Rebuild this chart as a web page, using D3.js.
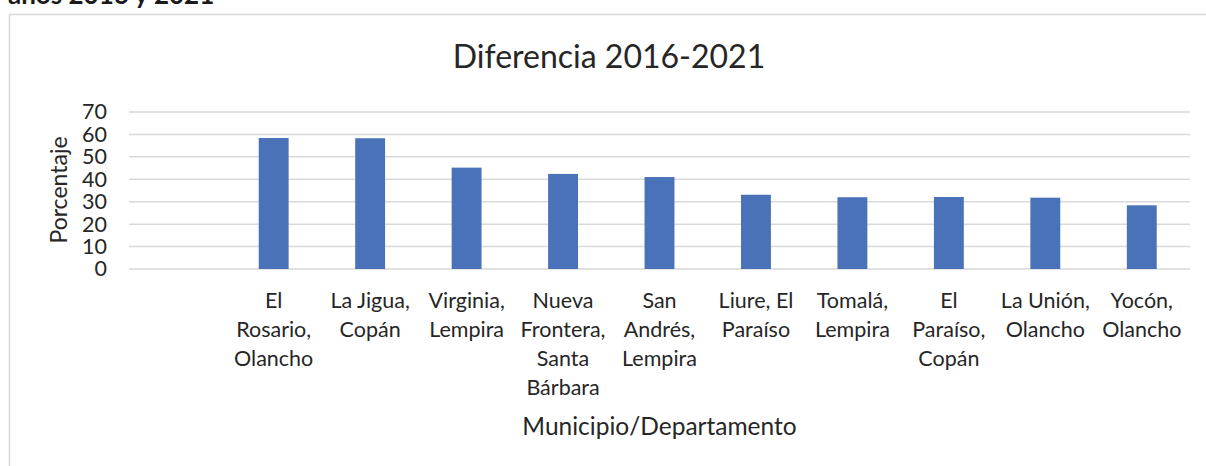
<!DOCTYPE html>
<html>
<head>
<meta charset="utf-8">
<script src="https://cdn.jsdelivr.net/npm/d3@7"></script>
<style>
  body { margin: 0; background: #fff; }
  svg { display: block; font-family: Lato, "Open Sans", sans-serif; }
</style>
</head>
<body>
<script>
//chart data
var categories = ["", "El Rosario, Olancho", "La Jigua, Copán", "Virginia, Lempira",
    "Nueva Frontera, Santa Bárbara", "San Andrés, Lempira", "Liure, El Paraíso",
    "Tomalá, Lempira", "El Paraíso, Copán", "La Unión, Olancho", "Yocón, Olancho"];
//how the category labels wrap in the original
var labelLines = [[], ["El", "Rosario,", "Olancho"], ["La Jigua,", "Copán"], ["Virginia,", "Lempira"],
    ["Nueva", "Frontera,", "Santa", "Bárbara"], ["San", "Andrés,", "Lempira"], ["Liure, El", "Paraíso"],
    ["Tomalá,", "Lempira"], ["El", "Paraíso,", "Copán"], ["La Unión,", "Olancho"], ["Yocón,", "Olancho"]];
var values = [null, 58.4, 58.3, 45.2, 42.4, 41.0, 33.1, 32.0, 32.1, 31.8, 28.4];
var yTicks = [0, 10, 20, 30, 40, 50, 60, 70];

var chartTitle = "Diferencia 2016-2021",
    xTitle = "Municipio/Departamento",
    yTitle = "Porcentaje",
    pageText = "años 2016 y 2021";

window.onload = drawChart();

function drawChart() {
    var width = 1206,
        height = 466;

    var svg = d3.select("body")
        .append("svg")
        .attr("width", width)
        .attr("height", height);

    //cut-off caption above the chart
    svg.append("text")
        .attr("x", 8)
        .attr("y", 4)
        .attr("font-weight", "bold")
        .attr("font-size", 26)
        .attr("fill", "#1a1a1a")
        .text(pageText);

    //chart frame
    svg.append("rect")
        .attr("x", 9.5)
        .attr("y", 14.5)
        .attr("width", 1220)
        .attr("height", 480)
        .attr("fill", "none")
        .attr("stroke", "#d9d9d9")
        .attr("stroke-width", 1.5);

    var x = d3.scaleBand()
        .domain(categories)
        .range([129, 1190])
        .paddingInner(0.69)
        .paddingOuter(0.345);

    var y = d3.scaleLinear()
        .domain([0, 70])
        .range([269, 112]);

    //gridlines
    svg.append("g")
        .selectAll("line")
        .data(yTicks)
        .enter()
        .append("line")
        .attr("x1", 129)
        .attr("x2", 1190)
        .attr("y1", function(d) { return y(d); })
        .attr("y2", function(d) { return y(d); })
        .attr("stroke", "#d9d9d9")
        .attr("stroke-width", 1.5);

    //y axis labels
    var yAxis = svg.append("g")
        .attr("transform", "translate(107,0)")
        .call(d3.axisLeft(y).tickValues(yTicks).tickSize(0).tickPadding(0));
    yAxis.select(".domain").remove();
    yAxis.selectAll("text")
        .attr("font-family", "Lato, sans-serif")
        .attr("font-size", 21.5)
        .attr("fill", "#262626");

    //bars
    svg.append("g")
        .selectAll("rect")
        .data(values)
        .enter()
        .filter(function(d) { return d != null; })
        .append("rect")
        .attr("x", function(d) { return x(categories[values.indexOf(d)]); })
        .attr("y", function(d) { return y(d); })
        .attr("width", x.bandwidth())
        .attr("height", function(d) { return y(0) - y(d); })
        .attr("fill", "#4a72b8");

    //category labels
    var labels = svg.append("g")
        .selectAll("text")
        .data(categories)
        .enter()
        .append("text")
        .attr("text-anchor", "middle")
        .attr("font-size", 21.5)
        .attr("fill", "#262626")
        .attr("transform", function(d) {
            return "translate(" + (x(d) + x.bandwidth() / 2) + ",308)";
        });
    labels.each(function(d, i) {
        d3.select(this).selectAll("tspan")
            .data(labelLines[i])
            .enter()
            .append("tspan")
            .attr("x", 0)
            .attr("y", function(l, j) { return j * 29; })
            .text(function(l) { return l; });
    });

    //titles
    svg.append("text")
        .attr("x", 609)
        .attr("y", 68)
        .attr("text-anchor", "middle")
        .attr("font-size", 32)
        .attr("fill", "#262626")
        .text(chartTitle);

    svg.append("text")
        .attr("x", 659.5)
        .attr("y", 435)
        .attr("text-anchor", "middle")
        .attr("font-size", 24.5)
        .attr("fill", "#262626")
        .text(xTitle);

    svg.append("text")
        .attr("transform", "translate(67,190) rotate(-90)")
        .attr("text-anchor", "middle")
        .attr("font-size", 23)
        .attr("fill", "#262626")
        .text(yTitle);
}
</script>
</body>
</html>
